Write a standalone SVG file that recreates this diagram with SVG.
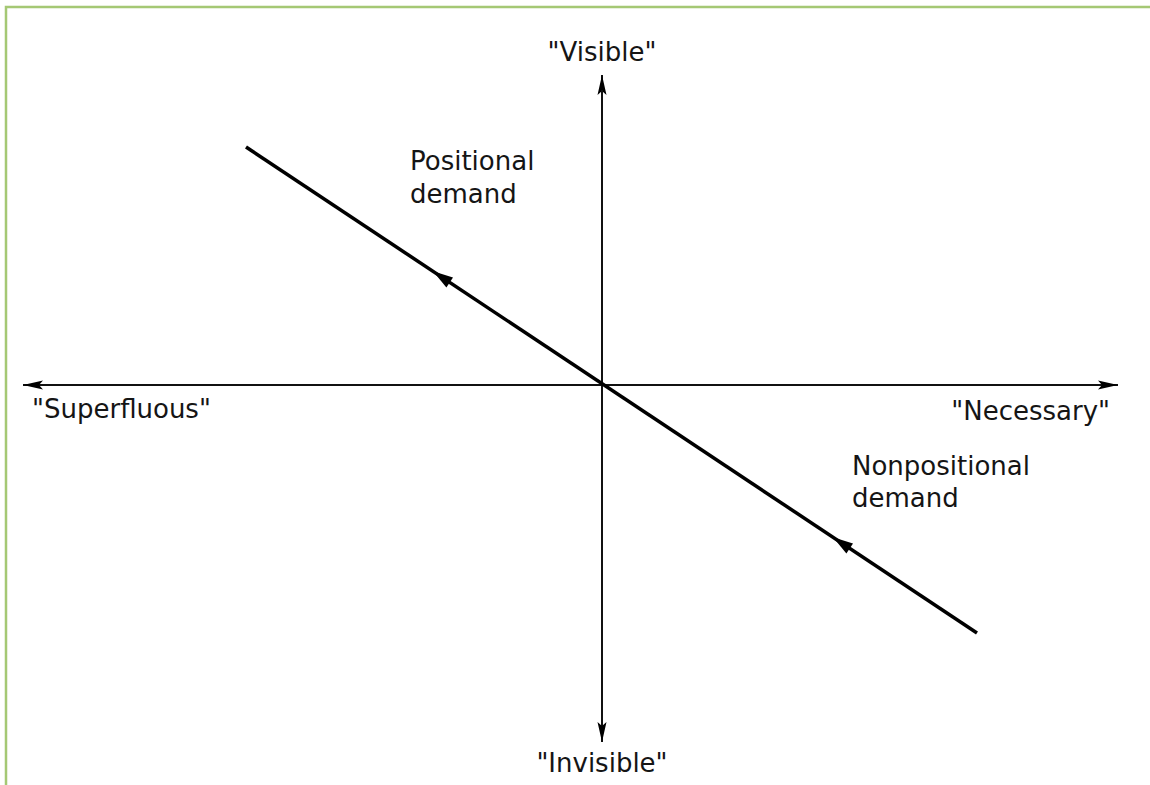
<svg xmlns="http://www.w3.org/2000/svg" width="1150" height="785" viewBox="0 0 1150 785">
<style>
text{font-family:"DejaVu Sans","Liberation Sans",sans-serif;font-size:26px;fill:#151515}
.axis{stroke:#111;stroke-width:2;fill:none}
.diag{stroke:#000;stroke-width:3.5;fill:none}
.frame{stroke:#a5c874;stroke-width:2.5;fill:none}
</style>
<defs>
<marker id="ax" viewBox="0 0 20 10" refX="20" refY="5" markerWidth="20" markerHeight="10" markerUnits="userSpaceOnUse" orient="auto">
<path d="M0,0.5 L20,5 L0,9.5 L4,5 Z" fill="#000"/>
</marker>
</defs>
<rect width="1150" height="785" fill="#fff"/>
<path class="frame" d="M6,785 V7 H1150"/>
<g id="connectors">
<line class="axis" x1="602" y1="740" x2="602" y2="75" marker-end="url(#ax)"/>
<line class="axis" x1="602" y1="90" x2="602" y2="742" marker-end="url(#ax)"/>
<line class="axis" x1="600" y1="385" x2="1118" y2="385" marker-end="url(#ax)"/>
<line class="axis" x1="604" y1="385" x2="23" y2="385" marker-end="url(#ax)"/>
<line class="diag" x1="246" y1="147" x2="977" y2="633"/>
<path d="M433,271.3 L453,277.4 L446.4,287.4 Z" fill="#000"/>
<path d="M833,537.3 L853,543.4 L846.4,553.4 Z" fill="#000"/>
</g>
<g id="visible"><text x="602" y="61" text-anchor="middle">"Visible"</text></g>
<g id="invisible"><text x="602" y="772" text-anchor="middle">"Invisible"</text></g>
<g id="superfluous"><text x="32" y="418">"Superfluous"</text></g>
<g id="necessary"><text x="1110" y="420" text-anchor="end">"Necessary"</text></g>
<g id="positional"><text x="410" y="170">Positional</text><text x="410" y="203">demand</text></g>
<g id="nonpositional"><text x="852" y="475">Nonpositional</text><text x="852" y="507">demand</text></g>
</svg>
